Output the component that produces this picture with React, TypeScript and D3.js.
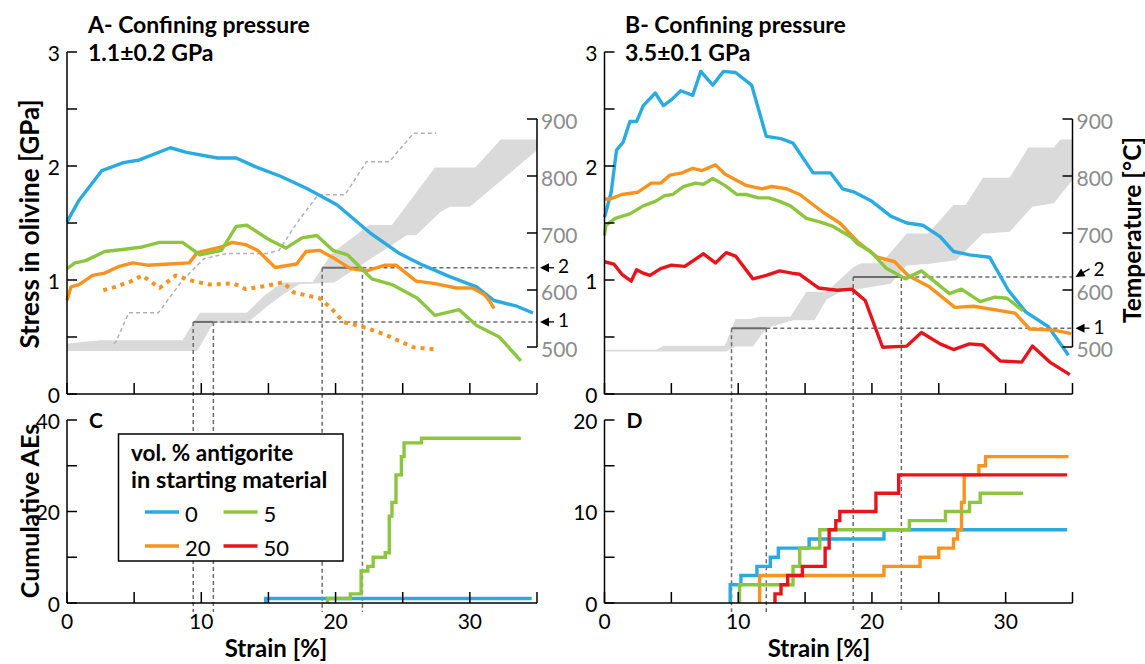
import React from "react";
import * as d3 from "d3";

type P = [number, number];

// ---------- Panel A (1.1 GPa) stress curves: [strain %, stress GPa]
const stressA0: P[] = [[0,1.51],[0.9,1.70],[2.6,1.96],[4.2,2.03],[5.3,2.05],[7.7,2.16],[8.9,2.12],[11.2,2.07],[12.6,2.07],[14.1,1.99],[15.9,1.91],[17.9,1.80],[20.1,1.66],[22.6,1.41],[24.8,1.23],[26.5,1.13],[28.5,1.03],[30.5,0.94],[31.8,0.82],[33.5,0.77],[34.7,0.71]];
const stressA5: P[] = [[0,1.10],[0.6,1.15],[1.4,1.17],[2.8,1.25],[4.3,1.27],[5.6,1.29],[6.9,1.33],[8.6,1.33],[9.9,1.22],[11.5,1.26],[12.6,1.47],[13.4,1.48],[15.1,1.35],[16.3,1.28],[17.5,1.37],[18.6,1.39],[19.8,1.26],[20.9,1.22],[22.7,1.01],[24.2,0.96],[26.1,0.84],[27.4,0.69],[29.2,0.74],[30.5,0.60],[32.2,0.50],[33.8,0.29]];
const stressA20: P[] = [[0,0.82],[0.3,0.94],[0.9,0.96],[1.9,1.04],[2.8,1.06],[3.9,1.12],[4.9,1.15],[6.0,1.13],[7.6,1.14],[9.1,1.15],[9.7,1.24],[11.5,1.29],[12.3,1.33],[13.3,1.31],[14.2,1.26],[15.5,1.11],[17.1,1.14],[17.8,1.25],[18.8,1.26],[19.9,1.19],[21.1,1.10],[22.3,1.08],[23.7,1.13],[24.5,1.13],[26.0,0.99],[27.3,0.97],[29.0,0.93],[30.2,0.93],[31.1,0.87],[31.5,0.81],[31.8,0.75]];
const stressA20b: P[] = [[2.7,0.91],[3.6,0.94],[4.8,0.99],[5.6,1.04],[6.9,0.93],[8.1,1.04],[9.4,0.99],[10.6,0.96],[12.4,0.97],[13.3,0.92],[14.9,0.95],[16.1,0.98],[16.9,0.89],[18.8,0.84],[19.7,0.75],[20.6,0.63],[22.0,0.59],[23.5,0.53],[25.8,0.41],[27.5,0.39]];

// Panel A temperature: band edges [strain, °C] and a second (dashed) record
const bandATop: P[] = [[0,506],[2.5,512],[8.6,512],[9.9,560],[13.4,560],[14.6,588],[16.0,613],[18.3,614],[19.7,664],[22.5,714],[24.2,714],[27.4,815],[30.4,815],[32.3,864],[35,864]];
const bandABottom: P[] = [[0,493],[9.7,493],[10.9,542],[13.4,542],[14.9,571],[16.1,592],[17.3,610],[19.9,613],[25.3,696],[26.0,696],[27.8,737],[28.5,746],[30.0,746],[35,845]];
const tempA2: P[] = [[3.5,505],[3.7,512],[4.6,560],[6.8,560],[8.6,617],[10.2,655],[11.9,664],[14.9,664],[15.8,670],[17.1,717],[18.7,767],[20.7,767],[22.3,825],[24.0,825],[25.8,875],[27.5,875]];

// ---------- Panel B (3.5 GPa)
const stressB0: P[] = [[0,1.55],[0.5,1.77],[0.9,2.14],[1.4,2.21],[1.9,2.39],[2.4,2.39],[2.9,2.53],[3.8,2.64],[4.4,2.53],[5.0,2.58],[5.7,2.66],[6.6,2.62],[7.2,2.83],[8.1,2.71],[8.9,2.83],[9.8,2.82],[11.0,2.71],[12.1,2.26],[13.2,2.24],[14.1,2.20],[15.6,1.94],[16.9,1.94],[17.8,1.80],[18.7,1.77],[20.0,1.69],[21.4,1.56],[22.6,1.50],[23.8,1.48],[25.1,1.38],[26.1,1.25],[27.3,1.22],[28.8,1.20],[30.2,0.91],[31.5,0.72],[33.2,0.59],[34.7,0.34]];
const stressB5: P[] = [[0,1.39],[0.1,1.48],[0.8,1.54],[1.9,1.58],[2.9,1.65],[3.8,1.69],[4.5,1.74],[5.1,1.75],[5.9,1.82],[6.8,1.85],[7.4,1.84],[8.1,1.89],[9.0,1.83],[9.9,1.75],[10.6,1.75],[11.5,1.72],[12.3,1.72],[13.1,1.69],[13.9,1.65],[15.1,1.54],[16.1,1.51],[17.1,1.47],[18.4,1.38],[18.9,1.32],[19.9,1.25],[21.1,1.10],[22.5,1.01],[23.7,1.08],[25.8,0.88],[26.7,0.92],[28.1,0.81],[29.2,0.85],[30.1,0.84],[31.3,0.73]];
const stressB20: P[] = [[0,1.71],[0.4,1.71],[1.3,1.75],[2.5,1.77],[3.5,1.85],[4.2,1.85],[4.9,1.92],[5.8,1.94],[6.6,1.98],[7.3,1.96],[8.3,2.01],[9.0,1.93],[10.6,1.83],[11.8,1.80],[12.5,1.82],[13.6,1.80],[14.6,1.75],[16.4,1.59],[17.6,1.50],[18.9,1.34],[20.4,1.20],[21.7,1.16],[22.7,1.04],[24.3,0.94],[26.2,0.76],[27.6,0.77],[30.7,0.71],[31.8,0.57],[33.6,0.56],[34.9,0.53]];
const stressB50: P[] = [[0,1.16],[0.7,1.14],[1.3,1.05],[2.0,0.99],[2.4,1.09],[2.9,1.06],[3.4,1.04],[4.2,1.10],[5.0,1.13],[6.0,1.12],[7.4,1.23],[8.3,1.15],[9.1,1.24],[9.8,1.21],[11.1,1.01],[12.1,1.04],[13.1,1.08],[14.0,1.06],[14.6,1.05],[16.0,0.93],[17.4,0.91],[18.5,0.92],[19.5,0.82],[20.8,0.41],[22.6,0.42],[23.7,0.54],[25.1,0.44],[26.1,0.39],[27.3,0.44],[28.3,0.43],[29.6,0.29],[31.2,0.28],[32.0,0.42],[33.3,0.28],[34.8,0.17]];
const bandBTop: P[] = [[0,495],[3.9,495],[4.4,502],[9.0,502],[9.8,549],[10.9,549],[11.6,553],[13.9,553],[15.1,597],[16.6,597],[18.6,640],[19.2,647],[20.7,647],[22.6,699],[24.2,699],[26.1,749],[27.0,749],[28.3,797],[30.3,797],[31.7,850],[33.6,850],[34.1,864],[35,864]];
const bandBBottom: P[] = [[0,492],[9.1,492],[9.8,501],[11.1,501],[12.1,533],[14.1,547],[15.7,547],[16.6,583],[17.6,596],[21.4,611],[22.6,643],[24.3,646],[26.3,652],[28.3,699],[28.7,699],[30.3,702],[32.0,746],[33.6,752],[35,793]];

// ---------- Annotations (temperature level °C, strains %)
const marksA = [{ label: "1", temp: 544, s: [9.4, 10.9] }, { label: "2", temp: 639, s: [19.0, 22.0] }];
const marksB = [{ label: "1", temp: 533, s: [9.5, 12.1] }, { label: "2", temp: 623, s: [18.6, 22.2] }];

// ---------- Cumulative AEs: [strain at step, new count], plus end strain
const aeC0: P[] = [[14.8, 1]];
const aeC0End = 34.6;
const aeC5: P[] = [[19.4,1],[21.1,2],[21.9,7],[22.4,8],[22.8,10],[23.7,11],[24.0,19],[24.2,22],[24.5,28],[24.9,32],[25.1,35],[26.4,36]];
const aeC5End = 33.8;
const aeD0: P[] = [[9.4,2],[10.2,3],[11.4,4],[12.4,5],[13.0,6],[15.3,7],[20.9,8]];
const aeD0End = 34.6;
const aeD5: P[] = [[10.1,2],[14.1,4],[14.6,6],[16.1,8],[22.8,9],[25.5,10],[27.3,11],[28.1,12]];
const aeD5End = 31.3;
const aeD20: P[] = [[11.6,3],[20.9,4],[23.6,5],[25.0,6],[26.1,7],[26.4,8],[26.7,11],[26.9,14],[28.0,15],[28.5,16]];
const aeD20End = 34.7;
const aeD50: P[] = [[12.75,1],[13.2,2],[13.7,3],[14.8,4],[16.5,6],[16.8,8],[17.3,9],[17.6,10],[20.3,12],[22.0,14]];
const aeD50End = 34.6;

// ---------- Ticks / labels
const strainTicks = [0, 5, 10, 15, 20, 25, 30, 35];
const strainLabels = [0, 10, 20, 30];
const stressTicks = [0, 0.5, 1, 1.5, 2, 2.5, 3];
const stressLabels = [0, 1, 2, 3];
const tempTicks = [500, 600, 700, 800, 900];
const aeCTicks = [0, 10, 20, 30, 40];
const aeCLabels = [0, 20, 40];
const aeDTicks = [0, 5, 10, 15, 20];
const aeDLabels = [0, 10, 20];
const legendItems = [
  { label: "0", color: "#29abe2" },
  { label: "5", color: "#8cc63f" },
  { label: "20", color: "#f7931e" },
  { label: "50", color: "#e8141c" },
];

const C0 = "#29abe2", C5 = "#8cc63f", C20 = "#f7931e", C50 = "#e8141c";
const BAND = "#dadada";
const FONT = "Lato, 'Open Sans', sans-serif";
const LW = 3.4;

const xA = d3.scaleLinear().domain([0, 35]).range([67, 537]);
const xB = d3.scaleLinear().domain([0, 35]).range([604.5, 1072.5]);
const yS = d3.scaleLinear().domain([0, 3]).range([394, 52]);
const yT = d3.scaleLinear().domain([500, 900]).range([347, 119]);
const yC = d3.scaleLinear().domain([0, 40]).range([603, 420]);
const yD = d3.scaleLinear().domain([0, 20]).range([603, 420]);

const mkLine = (xs: any, ys: any) => d3.line<P>().x((d) => xs(d[0])).y((d) => ys(d[1]));
const mkStep = (xs: any, ys: any) => d3.line<P>().x((d) => xs(d[0])).y((d) => ys(d[1])).curve(d3.curveStepAfter);

function stepPts(steps: P[], end: number): P[] {
  const pts: P[] = [[steps[0][0], 0], ...steps];
  pts.push([end, steps[steps.length - 1][1]]);
  return pts;
}

function bandPath(xs: any, top: P[], bottom: P[]) {
  const l = mkLine(xs, yT);
  return (l([...top, ...bottom.slice().reverse()]) || "") + "Z";
}

function StressPanel({ xs, title, sub, letterX, bandTop, bandBottom, marks, lines, extra, arrowDiag }: any) {
  const x0 = xs(0), x35 = xs(35);
  return (
    <g>
      <text x={letterX} y={33} fontWeight="bold" fontSize={23}>{title}</text>
      <text x={letterX} y={61} fontWeight="bold" fontSize={23}>{sub}</text>
      <path d={bandPath(xs, bandTop, bandBottom)} fill={BAND} />
      {extra}
      {marks.map((m: any, i: number) => {
        const y = yT(m.temp);
        const xa = xs(m.s[0]), xb = xs(m.s[1]);
        return (
          <g key={i}>
            <line x1={xa} x2={xb} y1={y} y2={y} stroke="#6b6b6b" strokeWidth={2} />
            <line x1={xb} x2={x35} y1={y} y2={y} stroke="#6b6b6b" strokeWidth={1.5} strokeDasharray="4,3" />
            <line x1={xa} x2={xa} y1={y} y2={612} stroke="#6b6b6b" strokeWidth={1.5} strokeDasharray="4,3" />
            <line x1={xb} x2={xb} y1={y} y2={612} stroke="#6b6b6b" strokeWidth={1.5} strokeDasharray="4,3" />
          </g>
        );
      })}
      {lines.map((ln: any, i: number) => (
        <path key={i} d={mkLine(xs, yS)(ln.data) || ""} fill="none" stroke={ln.color} strokeWidth={ln.dash ? 4 : LW}
          strokeDasharray={ln.dash} strokeLinejoin="round" />
      ))}
      {/* left stress axis */}
      <line x1={x0} x2={x0} y1={yS(0)} y2={yS(3)} stroke="#000" strokeWidth={1.5} />
      {stressTicks.map((t) => (
        <line key={t} x1={x0} x2={x0 + 10} y1={yS(t)} y2={yS(t)} stroke="#000" strokeWidth={1.5} />
      ))}
      {stressLabels.map((t) => (
        <text key={t} x={x0 - 7} y={yS(t)} textAnchor="end" dominantBaseline="central" fontSize={21}>{t}</text>
      ))}
      {/* bottom strain axis */}
      <line x1={x0} x2={x35} y1={yS(0)} y2={yS(0)} stroke="#000" strokeWidth={1.5} />
      {strainTicks.map((t) => (
        <line key={t} x1={xs(t)} x2={xs(t)} y1={yS(0)} y2={yS(0) - 11} stroke="#000" strokeWidth={1.5} />
      ))}
      {/* right temperature axis */}
      <line x1={x35} x2={x35} y1={yT(500)} y2={yT(900)} stroke="#000" strokeWidth={1.5} />
      {tempTicks.map((t) => (
        <g key={t}>
          <line x1={x35 - 10} x2={x35} y1={yT(t)} y2={yT(t)} stroke="#000" strokeWidth={1.5} />
          <text x={x35 + 4} y={yT(t) + 1.5} dominantBaseline="central" fontSize={21} fill="#8c8c8c">{t}</text>
        </g>
      ))}
      {marks.map((m: any, i: number) => {
        const y = yT(m.temp);
        const diag = arrowDiag && m.label === "2";
        const ly = diag ? y - 8 : y - 2;
        const tx = x35 + 3;
        const ex = x35 + 17, ey = diag ? y - 8 : y;
        const ang = Math.atan2(ey - y, ex - tx);
        const hl = 9, hw = 4.5;
        const p1 = [tx + hl * Math.cos(ang) - hw * Math.sin(ang), y + hl * Math.sin(ang) + hw * Math.cos(ang)];
        const p2 = [tx + hl * Math.cos(ang) + hw * Math.sin(ang), y + hl * Math.sin(ang) - hw * Math.cos(ang)];
        return (
          <g key={"a" + i}>
            <line x1={tx + 5 * Math.cos(ang)} y1={y + 5 * Math.sin(ang)} x2={ex} y2={ey} stroke="#000" strokeWidth={1.3} />
            <polygon points={`${tx},${y} ${p1[0]},${p1[1]} ${p2[0]},${p2[1]}`} fill="#000" />
            <text x={ex + 4} y={ly} dominantBaseline="central" fontSize={19}>{m.label}</text>
          </g>
        );
      })}
    </g>
  );
}

function AEPanel({ xs, ys, letter, ticks, labels, series, strainX }: any) {
  const x0 = xs(0), x35 = xs(35);
  const top = ys.domain()[1];
  return (
    <g>
      {series.map((s: any, i: number) => (
        <path key={i} d={mkStep(xs, ys)(stepPts(s.steps, s.end)) || ""} fill="none" stroke={s.color} strokeWidth={LW} />
      ))}
      <line x1={x0} x2={x0} y1={ys(0)} y2={ys(top)} stroke="#000" strokeWidth={1.5} />
      {ticks.map((t: number) => (
        <line key={t} x1={x0} x2={x0 + 10} y1={ys(t)} y2={ys(t)} stroke="#000" strokeWidth={1.5} />
      ))}
      {labels.map((t: number) => (
        <text key={t} x={x0 - 7} y={ys(t)} textAnchor="end" dominantBaseline="central" fontSize={21}>{t}</text>
      ))}
      <line x1={x0} x2={x35} y1={ys(0)} y2={ys(0)} stroke="#000" strokeWidth={1.5} />
      {strainTicks.map((t) => (
        <line key={t} x1={xs(t)} x2={xs(t)} y1={ys(0)} y2={ys(0) - 11} stroke="#000" strokeWidth={1.5} />
      ))}
      {strainLabels.map((t) => (
        <text key={t} x={xs(t)} y={629} textAnchor="middle" fontSize={21}>{t}</text>
      ))}
      <text x={strainX} y={657} textAnchor="middle" fontWeight="bold" fontSize={24}>Strain [%]</text>
      <text x={x0 + 22} y={428} fontWeight="bold" fontSize={21}>{letter}</text>
    </g>
  );
}

export default function App() {
  const tempDashed = (
    <path d={mkLine(xA, yT)(tempA2) || ""} fill="none" stroke="#b0b0b0" strokeWidth={1.5} strokeDasharray="4,3" />
  );
  return (
    <svg width={1145} height={664} style={{ position: "absolute", left: 0, top: 0, background: "#fff" }}
      fontFamily={FONT}>
      <rect width={1145} height={664} fill="#fff" />
      <StressPanel xs={xA} title="A- Confining pressure" sub="1.1±0.2 GPa" letterX={88}
        bandTop={bandATop} bandBottom={bandABottom} marks={marksA} extra={tempDashed}
        lines={[
          { data: stressA20b, color: C20, dash: "4,5" },
          { data: stressA0, color: C0 },
          { data: stressA20, color: C20 },
          { data: stressA5, color: C5 },
        ]} />
      <StressPanel xs={xB} title="B- Confining pressure" sub="3.5±0.1 GPa" letterX={625}
        bandTop={bandBTop} bandBottom={bandBBottom} marks={marksB} arrowDiag
        lines={[
          { data: stressB0, color: C0 },
          { data: stressB20, color: C20 },
          { data: stressB5, color: C5 },
          { data: stressB50, color: C50 },
        ]} />
      <AEPanel xs={xA} ys={yC} letter="C" ticks={aeCTicks} labels={aeCLabels} strainX={276}
        series={[
          { steps: aeC0, end: aeC0End, color: C0 },
          { steps: aeC5, end: aeC5End, color: C5 },
        ]} />
      <AEPanel xs={xB} ys={yD} letter="D" ticks={aeDTicks} labels={aeDLabels} strainX={819}
        series={[
          { steps: aeD0, end: aeD0End, color: C0 },
          { steps: aeD20, end: aeD20End, color: C20 },
          { steps: aeD5, end: aeD5End, color: C5 },
          { steps: aeD50, end: aeD50End, color: C50 },
        ]} />
      {/* legend */}
      <g>
        <rect x={118.5} y={434} width={224.5} height={127} fill="#fff" stroke="#000" strokeWidth={1.5} />
        <text x={131} y={461} fontWeight="bold" fontSize={22.5}>vol. % antigorite</text>
        <text x={131} y={488} fontWeight="bold" fontSize={23.5}>in starting material</text>
        {legendItems.map((it, i) => {
          const col = i % 2, row = Math.floor(i / 2);
          const lx = 145 + col * 78.5, ly = 512 + row * 34;
          return (
            <g key={it.label}>
              <line x1={lx} x2={lx + 34} y1={ly} y2={ly} stroke={it.color} strokeWidth={3.6} />
              <text x={lx + 40} y={ly + 1} dominantBaseline="central" fontSize={22}>{it.label}</text>
            </g>
          );
        })}
      </g>
      {/* axis titles */}
      <text transform="translate(29,224) rotate(-90)" textAnchor="middle" dominantBaseline="central" fontWeight="bold" fontSize={26}>Stress in olivine [GPa]</text>
      <text transform="translate(29,511) rotate(-90)" textAnchor="middle" dominantBaseline="central" fontWeight="bold" fontSize={25}>Cumulative AEs</text>
      <text transform="translate(1131,230) rotate(-90)" textAnchor="middle" dominantBaseline="central" fontWeight="bold" fontSize={24.5}>Temperature [°C]</text>
    </svg>
  );
}
